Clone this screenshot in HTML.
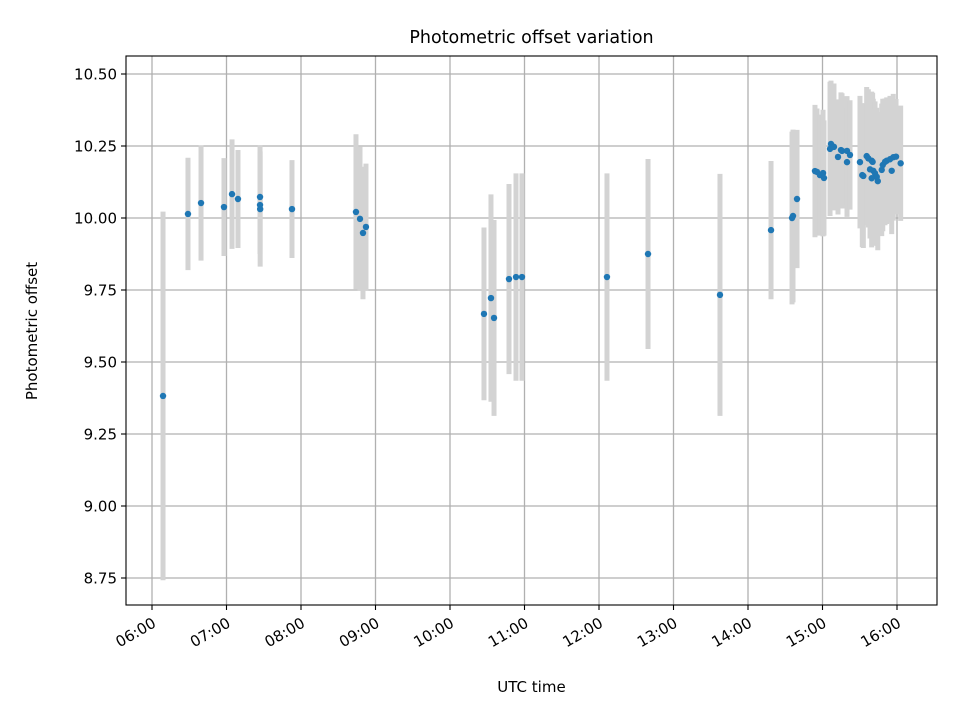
<!DOCTYPE html>
<html><head><meta charset="utf-8"><style>
body{margin:0;background:#fff}
svg text{font-family:"DejaVu Sans","Liberation Sans",sans-serif;fill:#000}
</style></head><body>
<svg id="chart" width="960" height="720" viewBox="0 0 960 720" xmlns="http://www.w3.org/2000/svg">
<rect width="960" height="720" fill="#fff"/>
<g id="grid"></g>
<g id="errs"></g>
<g id="pts"></g>
<rect x="126" y="56" width="811" height="549" fill="none" stroke="#000" stroke-width="1.1"/>
<g id="axes"></g>
<text x="531.5" y="43" font-size="17.5" text-anchor="middle">Photometric offset variation</text>
<text x="531.5" y="692" font-size="15" text-anchor="middle">UTC time</text>
<text transform="translate(37,331) rotate(-90)" font-size="15" text-anchor="middle">Photometric offset</text>
</svg>
<script>
const hours=[6.148,6.483,6.658,6.966,7.074,7.154,7.450,7.450,7.452,7.879,8.738,8.792,8.832,8.872,10.456,10.550,10.591,10.792,10.886,10.966,12.107,12.658,13.624,14.309,14.591,14.604,14.658,14.899,14.926,14.966,15.007,15.020,15.101,15.114,15.141,15.154,15.208,15.248,15.262,15.329,15.329,15.369,15.503,15.534,15.548,15.593,15.615,15.660,15.673,15.638,15.682,15.705,15.728,15.660,15.742,15.795,15.809,15.839,15.862,15.906,15.929,15.950,15.987,16.049];
const offsets=[9.382,10.014,10.052,10.038,10.083,10.066,10.073,10.045,10.031,10.031,10.021,9.997,9.948,9.969,9.667,9.722,9.653,9.788,9.795,9.795,9.795,9.875,9.733,9.958,10.0,10.007,10.066,10.163,10.160,10.149,10.156,10.139,10.240,10.257,10.247,10.247,10.212,10.236,10.233,10.233,10.194,10.219,10.194,10.149,10.146,10.215,10.207,10.199,10.195,10.169,10.164,10.155,10.143,10.138,10.128,10.167,10.184,10.195,10.199,10.204,10.164,10.211,10.213,10.190];
const errors=[0.64,0.195,0.2,0.17,0.19,0.17,0.18,0.17,0.2,0.17,0.27,0.25,0.23,0.22,0.3,0.36,0.34,0.33,0.36,0.36,0.36,0.33,0.42,0.24,0.3,0.3,0.24,0.23,0.22,0.21,0.22,0.2,0.233,0.22,0.22,0.22,0.2,0.2,0.2,0.19,0.19,0.19,0.23,0.25,0.25,0.24,0.24,0.24,0.24,0.24,0.25,0.25,0.24,0.24,0.24,0.23,0.23,0.22,0.22,0.22,0.22,0.22,0.2,0.2];
const xTicks=[6,7,8,9,10,11,12,13,14,15,16];
const xTickLabels=["06:00","07:00","08:00","09:00","10:00","11:00","12:00","13:00","14:00","15:00","16:00"];
const yTicks=[8.75,9.0,9.25,9.5,9.75,10.0,10.25,10.5];
const yTickLabels=["8.75","9.00","9.25","9.50","9.75","10.00","10.25","10.50"];
const NS="http://www.w3.org/2000/svg";
const X=h=>152+(h-6)*74.5;
const Y=v=>74+(10.5-v)*288;
function mk(tag,attrs,parent){const e=document.createElementNS(NS,tag);for(const k in attrs)e.setAttribute(k,attrs[k]);document.getElementById(parent).appendChild(e);return e;}
xTicks.forEach((t,i)=>{
 const x=X(t);
 const g=mk('line',{x1:x,x2:x,y1:56,y2:605,stroke:'#b0b0b0','stroke-width':1.3},'grid');
 
 
 const tk=mk('line',{x1:x,x2:x,y1:605,y2:610,stroke:'#000','stroke-width':1.1},'axes');
 
 
 const tx=mk('text',{x:0,y:0,'font-size':15,'text-anchor':'end',transform:`translate(${x+5},${626}) rotate(-30)`},'axes');
 tx.textContent=xTickLabels[i];
 
 
});
yTicks.forEach((t,i)=>{
 const y=Y(t);
 const g=mk('line',{x1:126,x2:937,y1:y,y2:y,stroke:'#b0b0b0','stroke-width':1.3},'grid');
 
 
 const tk=mk('line',{x1:121,x2:126,y1:y,y2:y,stroke:'#000','stroke-width':1.1},'axes');
 
 
 const tx=mk('text',{x:117,y:y+5.5,'font-size':15,'text-anchor':'end'},'axes');
 tx.textContent=yTickLabels[i];
 
 
});
hours.forEach((h,i)=>{
 const x=X(h);
 const e=mk('line',{x1:x,x2:x,y1:Y(offsets[i]+errors[i]),y2:Y(offsets[i]-errors[i]),stroke:'#d3d3d3','stroke-width':5},'errs');
 
 
});
hours.forEach((h,i)=>{
 const c=mk('circle',{cx:X(h),cy:Y(offsets[i]),r:3.2,fill:'#1f77b4'},'pts');
 
 
});
</script>
</body></html>
